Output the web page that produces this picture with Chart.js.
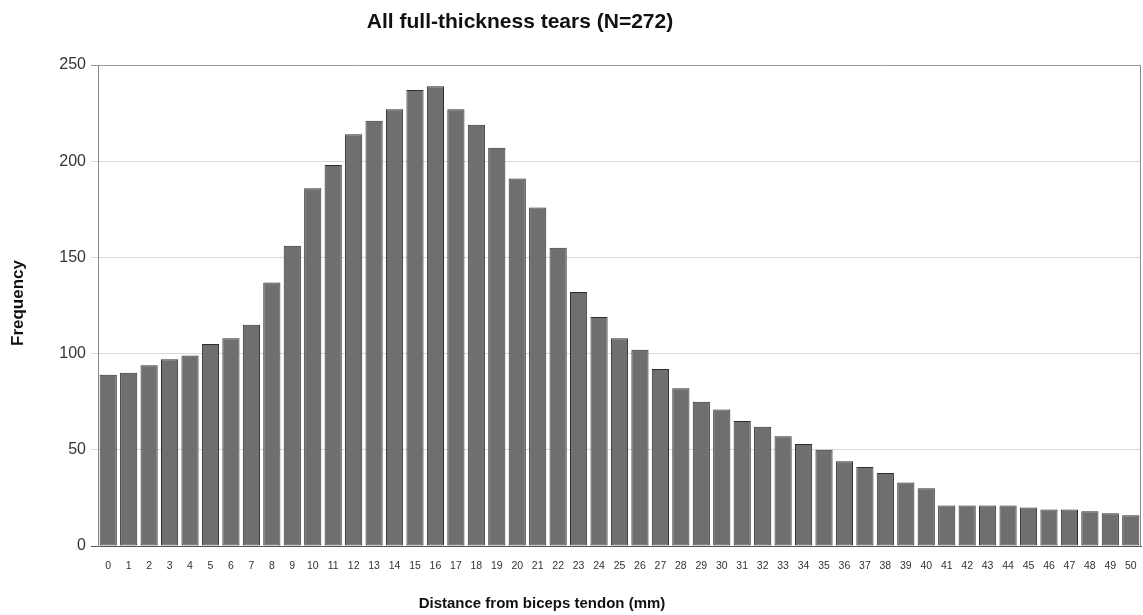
<!DOCTYPE html>
<html>
<head>
<meta charset="utf-8">
<script src="https://cdn.jsdelivr.net/npm/chart.js@4.4.1/dist/chart.umd.min.js"></script>
<style>
  html, body { margin: 0; padding: 0; background: #ffffff; }
  #wrap { width: 1143px; height: 615px; position: relative; }
</style>
</head>
<body>
<div id="wrap"><canvas id="c"></canvas></div>
<script>
// ---- data ----
const distanceLabels = ["0","1","2","3","4","5","6","7","8","9","10","11","12","13","14","15","16","17","18","19","20","21","22","23","24","25","26","27","28","29","30","31","32","33","34","35","36","37","38","39","40","41","42","43","44","45","46","47","48","49","50"];
const frequencies = [89,90,94,97,99,105,108,115,137,156,186,198,214,221,227,237,239,227,219,207,191,176,155,132,119,108,102,92,82,75,71,65,62,57,53,50,44,41,38,33,30,21,21,21,21,20,19,19,18,17,16];
const yTicks = [0, 50, 100, 150, 200, 250];
const chartTitle = "All full-thickness tears (N=272)";
const xTitle = "Distance from biceps tendon (mm)";
const yTitle = "Frequency";

const FONT = "'Liberation Sans', Arial, 'DejaVu Sans', sans-serif";

const decor = {
  id: 'decor',
  beforeDraw(chart) {
    const ctx = chart.ctx;
    ctx.save();
    ctx.fillStyle = '#ffffff';
    ctx.fillRect(0, 0, chart.width, chart.height);
    ctx.restore();
  },
  afterDraw(chart) {
    const ctx = chart.ctx;
    const a = chart.chartArea;
    ctx.save();
    // right border line
    ctx.strokeStyle = '#888888';
    ctx.lineWidth = 1;
    ctx.beginPath();
    ctx.moveTo(Math.round(a.right) - 0.5, a.top);
    ctx.lineTo(Math.round(a.right) - 0.5, a.bottom);
    ctx.stroke();
    // title
    ctx.fillStyle = '#111111';
    ctx.textAlign = 'center';
    ctx.textBaseline = 'middle';
    ctx.font = "bold 21px " + FONT;
    ctx.fillText(chartTitle, 520, 22);
    // x title
    ctx.font = "bold 15px " + FONT;
    ctx.fillText(xTitle, 542, 604);
    // y title
    ctx.translate(18, 303);
    ctx.rotate(-Math.PI / 2);
    ctx.font = "bold 17px " + FONT;
    ctx.fillText(yTitle, 0, 0);
    ctx.restore();
  }
};

new Chart(document.getElementById('c'), {
  type: 'bar',
  data: {
    labels: distanceLabels,
    datasets: [{
      data: frequencies,
      backgroundColor: '#6f6f6f',
      borderColor: '#2e2e2e',
      borderWidth: 1,
      borderSkipped: false,
      categoryPercentage: 1.0,
      barPercentage: 0.84
    }]
  },
  options: {
    responsive: true,
    maintainAspectRatio: false,
    animation: false,
    layout: { padding: { top: 65, right: 2, left: 0, bottom: 0 } },
    plugins: {
      legend: { display: false },
      title: { display: false },
      tooltip: { enabled: false }
    },
    scales: {
      x: {
        grid: {
          display: true, drawOnChartArea: false, drawTicks: true,
          tickLength: 12, color: 'rgba(0,0,0,0)', tickColor: 'rgba(0,0,0,0)'
        },
        border: { display: true, color: '#555555', width: 1 },
        ticks: {
          autoSkip: false, maxRotation: 0, minRotation: 0,
          padding: 2,
          color: '#333333',
          font: { family: FONT, size: 10.5 }
        },
        afterFit(scale) { scale.height = 69; }
      },
      y: {
        min: 0, max: 250,
        afterBuildTicks(scale) { scale.ticks = yTicks.map(v => ({ value: v })); },
        grid: {
          color(c) {
            if (c.tick && c.tick.value === 250) return '#999999';
            if (c.tick && c.tick.value === 0) return '#555555';
            return '#d9d9d9';
          },
          lineWidth: 1,
          tickLength: 7
        },
        border: { display: true, color: '#888888', width: 1 },
        ticks: {
          padding: 5,
          color: '#333333',
          font: { family: FONT, size: 16 }
        },
        afterFit(scale) { scale.width = 98; }
      }
    }
  },
  plugins: [decor]
});
</script>
</body>
</html>
